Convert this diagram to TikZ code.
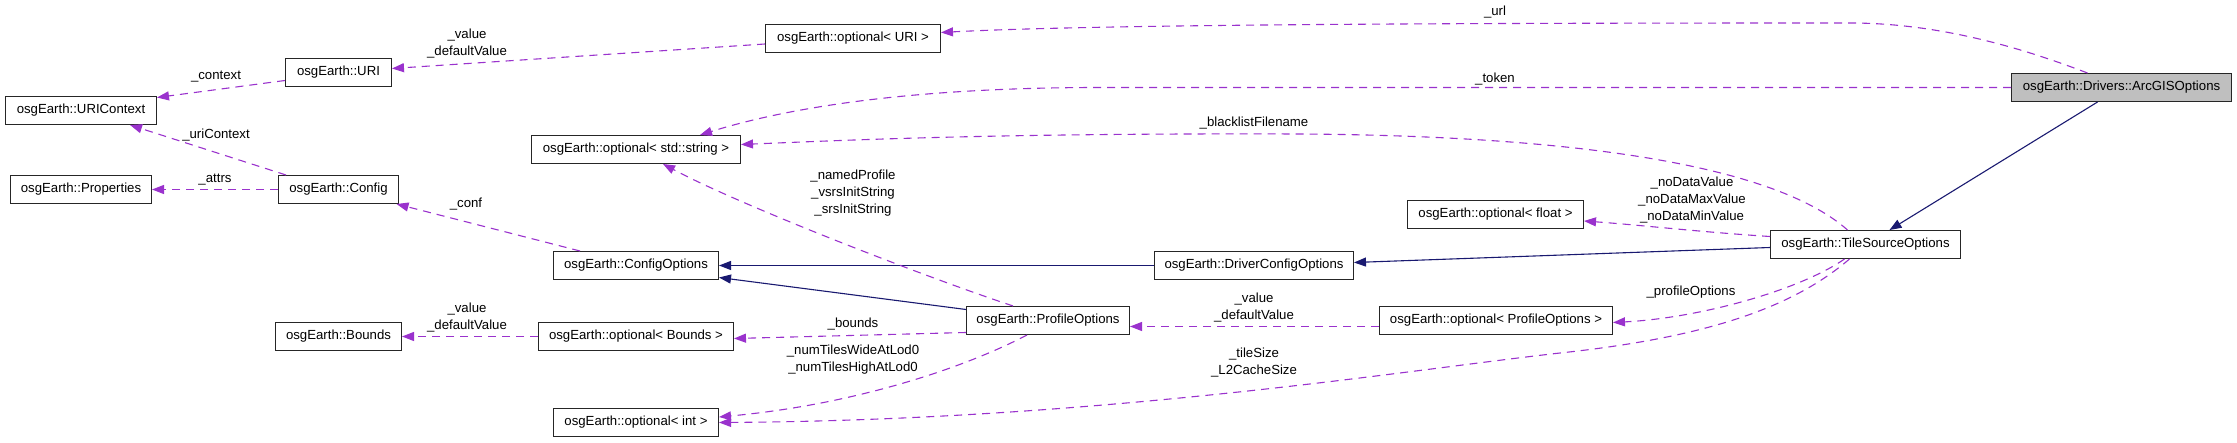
\documentclass[tikz,border=0pt]{standalone}
\usepackage{fontspec}
\setmainfont{Liberation Sans}
\usetikzlibrary{arrows.meta}
\definecolor{lila}{HTML}{9A32CD}
\definecolor{sotetkek}{HTML}{191970}
\tikzset{
  osztaly/.style={draw=black!85,line width=1pt,fill=white,minimum height=28pt,inner sep=0pt,
    font=\fontsize{13.2}{17}\selectfont},
  hasznal/.style={draw=lila,line width=1.1pt,dash pattern=on 8pt off 6pt,-{Triangle[length=12pt,width=9pt]}},
  orokol/.style={draw=sotetkek,line width=1.1pt,-{Triangle[length=12pt,width=9pt]}},
  cimke/.style={inner sep=0pt,align=center,font=\fontsize{13.2}{17}\selectfont},
}
\begin{document}
\begin{tikzpicture}[x=1pt,y=-1pt]
  \useasboundingbox (0,0) rectangle (2237,443);
  % osztalyok
  \node[osztaly,fill=gray!50,minimum width=220] (arc) at (2121.5,87.5) {osgEarth::Drivers::ArcGISOptions};
  \node[osztaly,minimum width=190] (tso) at (1865.5,244.5) {osgEarth::TileSourceOptions};
  \node[osztaly,minimum width=175] (ouri) at (853,38.5) {osgEarth::optional< URI >};
  \node[osztaly,minimum width=106] (uri) at (338.5,72.5) {osgEarth::URI};
  \node[osztaly,minimum width=151] (uctx) at (81,110.5) {osgEarth::URIContext};
  \node[osztaly,minimum width=141] (props) at (81,189.5) {osgEarth::Properties};
  \node[osztaly,minimum width=120] (conf) at (338.5,189.5) {osgEarth::Config};
  \node[osztaly,minimum width=209] (ostr) at (636,149.5) {osgEarth::optional< std::string >};
  \node[osztaly,minimum width=165] (copt) at (636,265.5) {osgEarth::ConfigOptions};
  \node[osztaly,minimum width=195] (obnd) at (636,336.5) {osgEarth::optional< Bounds >};
  \node[osztaly,minimum width=126] (bnd) at (338.5,336.5) {osgEarth::Bounds};
  \node[osztaly,minimum width=165] (oint) at (636,422.5) {osgEarth::optional< int >};
  \node[osztaly,minimum width=163] (prof) at (1048,320.5) {osgEarth::ProfileOptions};
  \node[osztaly,minimum width=199] (dco) at (1254,265.5) {osgEarth::DriverConfigOptions};
  \node[osztaly,minimum width=176] (oflt) at (1495.5,214.5) {osgEarth::optional< float >};
  \node[osztaly,minimum width=233] (oprof) at (1496,320.5) {osgEarth::optional< ProfileOptions >};

  % oroklodes
  \draw[orokol] ([xshift=-24]arc.south) -- ([xshift=24]tso.north);
  \draw[orokol] ([yshift=-3]tso.west) -- ([yshift=3]dco.east);
  \draw[orokol] (dco.west) -- (copt.east);
  \draw[orokol] ([yshift=11]prof.west) -- ([yshift=-12]copt.east);

  % tagok
  \draw[hasznal] ([xshift=-34]arc.north) .. controls (2040,55) and (1950,23) .. (1850,23)
    .. controls (1500,23) and (1100,24) .. ([yshift=6]ouri.east) node[cimke] (lurl) at (1495,12) {\_url};
  \draw[hasznal] (arc.west) -- (1100,87.5) .. controls (900,87.5) and (780,110) .. ([xshift=64]ostr.north)
    node[cimke] (ltoken) at (1495,79) {\_token};
  \draw[hasznal] ([xshift=-18]tso.north) .. controls (1780,170) and (1600,136) .. (1300,134)
    .. controls (1000,133) and (850,140) .. ([yshift=5]ostr.east)
    node[cimke] (lblack) at (1254,123) {\_blacklistFilename};
  \draw[hasznal] ([yshift=8]tso.west) .. controls (1700,232) and (1640,225) .. ([yshift=-6.5]oflt.east)
    node[cimke] (lnodata) at (1692,200) {\_noDataValue\\\_noDataMaxValue\\\_noDataMinValue};
  \draw[hasznal] ([xshift=-21]tso.south) .. controls (1800,290) and (1700,318) .. ([yshift=-2]oprof.east)
    node[cimke] (lprofopt) at (1691,292) {\_profileOptions};
  \draw[hasznal] ([xshift=-16]tso.south) .. controls (1790,310) and (1700,338) .. (1560,353)
    .. controls (1400,371) and (1100,420) .. (oint.east)
    node[cimke] (ltile) at (1254,362.5) {\_tileSize\\\_L2CacheSize};
  \draw[hasznal] ([yshift=-6]oprof.west) -- ([yshift=-6]prof.east)
    node[cimke] (lprofval) at (1254,307.5) {\_value\\\_defaultValue};
  \draw[hasznal] ([xshift=-35]prof.north) .. controls (920,275) and (740,205) .. ([xshift=27]ostr.south)
    node[cimke] (lprofstr) at (853,193) {\_namedProfile\\\_vsrsInitString\\\_srsInitString};
  \draw[hasznal] ([yshift=-12]prof.west) -- ([yshift=-2]obnd.east) node[cimke] (lbounds) at (853,324) {\_bounds};
  \draw[hasznal] ([xshift=-21]prof.south) .. controls (960,370) and (850,405) .. ([yshift=5.5]oint.east)
    node[cimke] (lnum) at (853,359.5) {\_numTilesWideAtLod0\\\_numTilesHighAtLod0};
  \draw[hasznal] ([xshift=-56]copt.north) -- ([xshift=58]conf.south) node[cimke] (lconf) at (466,204) {\_conf};
  \draw[hasznal] (obnd.west) -- (bnd.east) node[cimke] (lbndval) at (467,317.5) {\_value\\\_defaultValue};
  \draw[hasznal] ([yshift=-5.5]ouri.west) -- ([yshift=4]uri.east)
    node[cimke] (lurival) at (467,43.5) {\_value\\\_defaultValue};
  \draw[hasznal] ([yshift=-8]uri.west) -- ([yshift=13]uctx.east) node[cimke] (lctx) at (216,77) {\_context};
  \draw[hasznal] ([xshift=-52.5]conf.north) -- ([xshift=49]uctx.south) node[cimke] (luctx) at (216,135) {\_uriContext};
  \draw[hasznal] (conf.west) -- (props.east) node[cimke] (lattrs) at (215,180) {\_attrs};
\end{tikzpicture}
\end{document}
